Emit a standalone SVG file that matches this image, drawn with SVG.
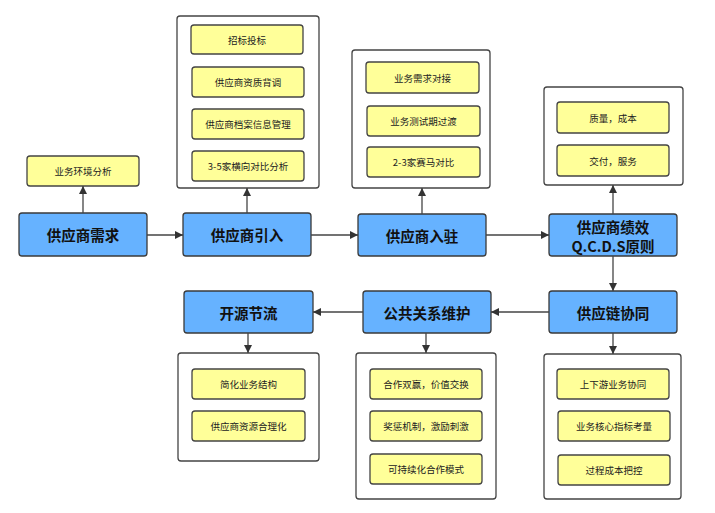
<svg xmlns="http://www.w3.org/2000/svg" width="715" height="513" viewBox="0 0 715 513">
<style>
.bg{fill:#ffffff}
.main rect{fill:#66B2FF;stroke:#3a3a3a;stroke-width:1.3}
.main text{font-family:"Noto Sans CJK SC","Liberation Sans",sans-serif;font-size:14.5px;font-weight:bold;fill:#111;text-anchor:middle;dominant-baseline:central}
.box rect{fill:#ffffff;stroke:#444;stroke-width:1.3}
.item rect{fill:#FFFF99;stroke:#444;stroke-width:1.3}
.item text{font-family:"Noto Sans CJK SC","Liberation Sans",sans-serif;font-size:9.5px;fill:#222;text-anchor:middle;dominant-baseline:central}
.conn line{stroke:#444;stroke-width:1.3;marker-end:url(#arr)}
</style>
<defs>
<marker id="arr" viewBox="0 0 10 10" refX="10" refY="5" markerWidth="8" markerHeight="8" markerUnits="userSpaceOnUse" orient="auto">
<path d="M0,0 L10,5 L0,10 z" fill="#333"/>
</marker>
</defs>
<rect class="bg" width="715" height="513"/>

<g id="c1" class="box"><rect x="177" y="16" width="142" height="172" rx="3"/></g>
<g id="c2" class="box"><rect x="352" y="50" width="138" height="138" rx="3"/></g>
<g id="c3" class="box"><rect x="544" y="87" width="139" height="98" rx="3"/></g>
<g id="c4" class="box"><rect x="178" y="353" width="141" height="108" rx="3"/></g>
<g id="c5" class="box"><rect x="356" y="353" width="140" height="146" rx="3"/></g>
<g id="c6" class="box"><rect x="544" y="354" width="137" height="145" rx="3"/></g>

<g id="n1" class="main"><rect x="19" y="213" width="128" height="43" rx="3"/><text x="83" y="234.5">供应商需求</text></g>
<g id="n2" class="main"><rect x="183" y="213" width="128" height="43" rx="3"/><text x="247" y="234.5">供应商引入</text></g>
<g id="n3" class="main"><rect x="358" y="214" width="128" height="42" rx="3"/><text x="422" y="235">供应商入驻</text></g>
<g id="n4" class="main"><rect x="549" y="214" width="128" height="42" rx="3"/><text x="613" y="226">供应商绩效</text><text x="613" y="245">Q.C.D.S原则</text></g>
<g id="n5" class="main"><rect x="549" y="291" width="128" height="42" rx="3"/><text x="613" y="312">供应链协同</text></g>
<g id="n6" class="main"><rect x="363" y="291" width="128" height="42" rx="3"/><text x="427" y="312">公共关系维护</text></g>
<g id="n7" class="main"><rect x="184" y="291" width="129" height="42" rx="3"/><text x="248.5" y="312">开源节流</text></g>

<g id="y0" class="item"><rect x="27" y="156" width="112" height="30" rx="3"/><text x="83" y="171">业务环境分析</text></g>

<g id="y1" class="item"><rect x="191" y="25" width="112" height="29" rx="3"/><text x="247" y="39.5">招标投标</text></g>
<g id="y2" class="item"><rect x="192" y="67" width="112" height="30" rx="3"/><text x="248" y="82">供应商资质背调</text></g>
<g id="y3" class="item"><rect x="192" y="109" width="112" height="30" rx="3"/><text x="248" y="124">供应商档案信息管理</text></g>
<g id="y4" class="item"><rect x="192" y="151" width="112" height="30" rx="3"/><text x="248" y="166">3-5家横向对比分析</text></g>

<g id="y5" class="item"><rect x="366" y="62" width="113" height="31" rx="3"/><text x="422.5" y="77.5">业务需求对接</text></g>
<g id="y6" class="item"><rect x="367" y="106" width="113" height="30" rx="3"/><text x="423.5" y="121">业务测试期过渡</text></g>
<g id="y7" class="item"><rect x="367" y="147" width="113" height="30" rx="3"/><text x="423.5" y="162">2-3家赛马对比</text></g>

<g id="y8" class="item"><rect x="557" y="102" width="112" height="31" rx="3"/><text x="613" y="117.5">质量，成本</text></g>
<g id="y9" class="item"><rect x="557" y="145" width="112" height="31" rx="3"/><text x="613" y="160.5">交付，服务</text></g>

<g id="y10" class="item"><rect x="192" y="369" width="113" height="30" rx="3"/><text x="248.5" y="384">简化业务结构</text></g>
<g id="y11" class="item"><rect x="192" y="411" width="113" height="30" rx="3"/><text x="248.5" y="426">供应商资源合理化</text></g>

<g id="y12" class="item"><rect x="370" y="369" width="112" height="30" rx="3"/><text x="426" y="384">合作双赢，价值交换</text></g>
<g id="y13" class="item"><rect x="370" y="411" width="112" height="30" rx="3"/><text x="426" y="426">奖惩机制，激励刺激</text></g>
<g id="y14" class="item"><rect x="370" y="454" width="112" height="30" rx="3"/><text x="426" y="469">可持续化合作模式</text></g>

<g id="y15" class="item"><rect x="557" y="369" width="112" height="30" rx="3"/><text x="613" y="384">上下游业务协同</text></g>
<g id="y16" class="item"><rect x="558" y="411" width="112" height="30" rx="3"/><text x="614" y="426">业务核心指标考量</text></g>
<g id="y17" class="item"><rect x="558" y="455" width="112" height="30" rx="3"/><text x="614" y="470">过程成本把控</text></g>

<g id="connectors" class="conn">
<line x1="83" y1="213" x2="83" y2="186"/>
<line x1="147" y1="235" x2="183" y2="235"/>
<line x1="247" y1="213" x2="247" y2="188"/>
<line x1="311" y1="235" x2="358" y2="235"/>
<line x1="422" y1="214" x2="422" y2="188"/>
<line x1="486" y1="235" x2="549" y2="235"/>
<line x1="613" y1="214" x2="613" y2="185"/>
<line x1="613" y1="256" x2="613" y2="291"/>
<line x1="549" y1="312" x2="491" y2="312"/>
<line x1="363" y1="312" x2="313" y2="312"/>
<line x1="248" y1="333" x2="248" y2="353"/>
<line x1="426" y1="333" x2="426" y2="353"/>
<line x1="613" y1="333" x2="613" y2="354"/>
</g>
</svg>
